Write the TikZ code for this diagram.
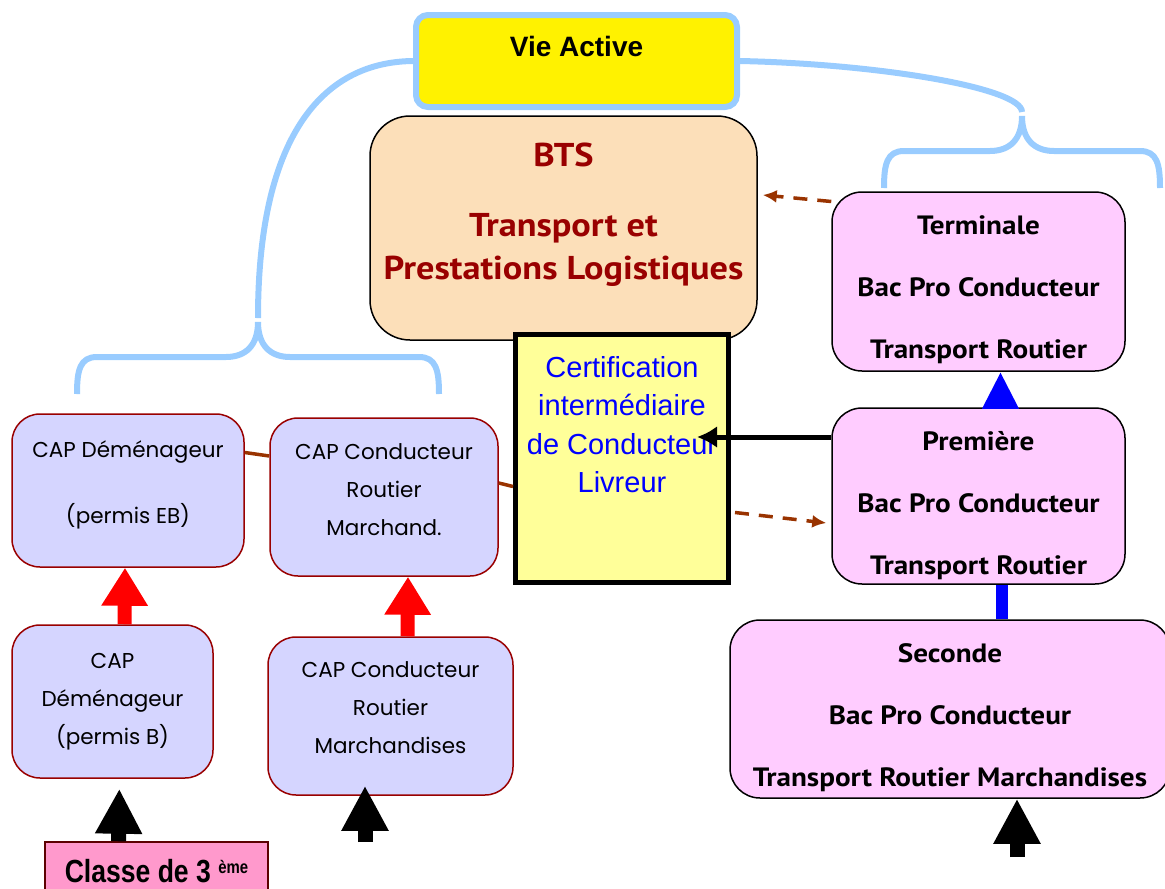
\documentclass[tikz,border=0pt]{standalone}
\usepackage{fontspec}
\setmainfont{Liberation Sans}
\newfontfamily\bacfont[FakeStretch=1.1]{PT Sans}
\newfontfamily\capfont{Poppins}
\newfontfamily\narrowfont[FakeStretch=0.83]{Liberation Sans}
\usetikzlibrary{arrows.meta,calc}

\definecolor{braceblue}{HTML}{99CCFF}
\definecolor{btspeach}{HTML}{FCDFB9}
\definecolor{btsred}{HTML}{990000}
\definecolor{certyellow}{HTML}{FFFF99}
\definecolor{bacpink}{HTML}{FFCCFF}
\definecolor{caplilac}{HTML}{D5D5FF}
\definecolor{capred}{HTML}{990000}
\definecolor{classepink}{HTML}{FF99CC}
\definecolor{linkbrown}{HTML}{993300}

\begin{document}
\begin{tikzpicture}[x=1pt,y=-1pt,
  brace/.style={draw=braceblue,line width=6pt},
  capbox/.style={draw=capred,line width=1.5pt,fill=caplilac,rounded corners=28pt,
    align=center,font=\capfont\fontsize{21.5}{38}\selectfont},
  bacbox/.style={draw=black,line width=1.5pt,fill=bacpink,rounded corners=30pt,
    align=center,font=\bacfont\bfseries\fontsize{26.5}{62}\selectfont},
  uparrow/.style={line width=15pt,-{Triangle[width=44pt,length=45pt]}},
  redarrow/.style={red,line width=14pt,-{Triangle[width=44pt,length=38pt]}},
  linkline/.style={draw=linkbrown,line width=3.5pt},
  linkdash/.style={linkline,dash pattern=on 14pt off 10pt,-{Latex[length=14pt,width=13pt]}}]
  \useasboundingbox (0,0) rectangle (1165,889);

  \node[draw=braceblue,line width=6pt,fill=yellow,rounded corners=12pt,
    minimum width=321pt,minimum height=92pt,align=center,
    font=\bfseries\fontsize{28}{34}\selectfont] (vie) at (576.5,61) {Vie Active\\[-4pt]\mbox{}};
  \node[draw,line width=1.5pt,fill=btspeach,text=btsred,rounded corners=40pt,
    minimum width=387pt,minimum height=224pt,align=center,
    font=\bacfont\bfseries\fontsize{33}{43}\selectfont] (bts) at (563.5,228)
    {BTS\\[27pt]Transport et\\Prestations Logistiques\\[-9pt]\mbox{}};
  \node[draw,line width=5pt,fill=certyellow,text=blue,
    minimum width=213pt,minimum height=248pt,align=center,
    font=\fontsize{29}{38.5}\selectfont] (cert) at (622,458.5)
    {Certification\\intermédiaire\\de Conducteur\\Livreur\\[30pt]\mbox{}};

  \node[bacbox,minimum width=293pt,minimum height=179pt] (term) at (978.5,281.5)
    {\mbox{}\\[-26pt]Terminale\\Bac Pro Conducteur\\Transport Routier};
  \node[bacbox,minimum width=293pt,minimum height=176pt] (prem) at (978.5,496)
    {\mbox{}\\[-24pt]Première\\Bac Pro Conducteur\\Transport Routier};
  \node[bacbox,minimum width=440pt,minimum height=178pt] (sec) at (950,709)
    {\mbox{}\\[-26pt]Seconde\\Bac Pro Conducteur\\Transport Routier Marchandises};

  \node[capbox,minimum width=232pt,minimum height=153pt] (capeb) at (128,490.5)
    {CAP Déménageur\\[28pt](permis EB)\\[-22pt]\mbox{}};
  \node[capbox,minimum width=228pt,minimum height=158pt] (capcrm) at (384,497)
    {CAP Conducteur\\Routier\\Marchand.\\[-24pt]\mbox{}};
  \node[capbox,minimum width=201pt,minimum height=153pt] (capb) at (112.5,701.5)
    {CAP\\Déménageur\\(permis B)};
  \node[capbox,minimum width=245pt,minimum height=158pt] (capcrms) at (390.5,716)
    {CAP Conducteur\\Routier\\Marchandises\\[-22pt]\mbox{}};

  \node[draw=capred!60!black,line width=1.5pt,fill=classepink,
    minimum width=223pt,minimum height=58pt,
    font=\narrowfont\bfseries\fontsize{32}{36}\selectfont] (classe) at (156.5,871)
    {Classe de 3 \raisebox{9pt}{\fontsize{18}{18}\selectfont ème}};

  \draw[brace] (vie.west) .. controls (320,62) and (258,140) .. (258,318);
  \draw[brace] (vie.east) .. controls (880,64) and (1022,88) .. (1022,112);
  \foreach \cx/\cy/\w in {258/322/181,1022/116/138}
    \foreach \d in {-1,1}
      \draw[brace,shift={(\cx,\cy)},xscale=\d] (0,0) .. controls (0,23) and (12,35) .. (32,35)
        -- ({\w-20},35) .. controls ({\w-3},35) and (\w,48) .. (\w,72);

  \draw[redarrow] ($(capb.north)+(12,0)$) -- ($(capeb.south)+(-3,0)$);
  \draw[redarrow] ($(capcrms.north)+(17,0)$) -- ($(capcrm.south)+(24,0)$);
  \draw[blue,line width=12pt,-{Triangle[width=34pt,length=37pt]}]
    ($(prem.north)+(22,0)$) -- ($(term.south)+(22,0)$);
  \draw[blue,line width=12pt] ($(sec.north)+(52,0)$) -- ($(prem.south)+(23.5,0)$);

  \coordinate (in2) at (365,842);
  \coordinate (in3) at (1017,857);
  \draw[uparrow,shorten >=10pt] ($(classe.north)+(-38,0)$) -- ($(capb.south)+(7,0)$);
  \draw[uparrow,shorten >=-10pt] (in2) -- ($(capcrms.south)+(-25.5,0)$);
  \draw[uparrow] (in3) -- ($(sec.south)+(67,0)$);

  \draw[line width=5pt,-{Latex[length=20pt,width=22pt]}]
    ($(prem.west)+(0,-59)$) -- ($(cert.east)+(-34,-21.5)$);
  \draw[linkdash] ($(term.west)+(0,-80)$) -- ($(bts.east)+(5,-33)$);
  \draw[linkdash] ($(cert.east)+(4,54)$) -- ($(prem.west)+(-5,27)$);
  \draw[linkline] ($(capeb.east)+(0,-38)$) -- ($(capcrm.west)+(0,-41)$);
  \draw[linkline] ($(capcrm.east)+(0,-14)$) -- ($(cert.west)+(0,28)$);
\end{tikzpicture}
\end{document}
